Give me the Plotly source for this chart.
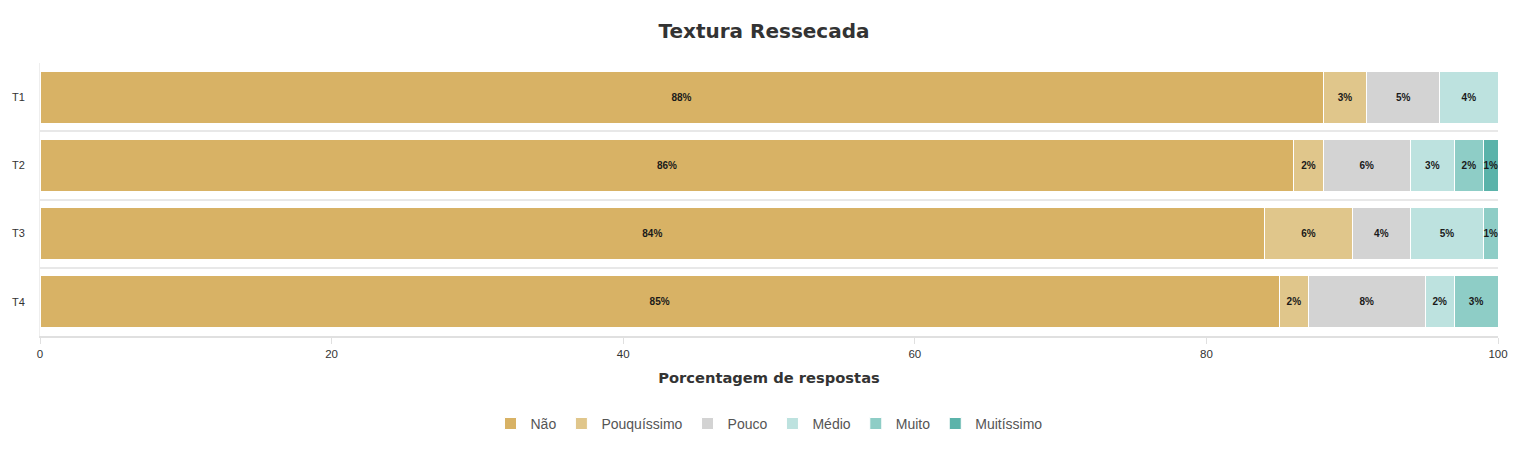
import plotly.graph_objects as go

categories = ["T1", "T2", "T3", "T4"]
series_names = ["Não", "Pouquíssimo", "Pouco", "Médio", "Muito", "Muitíssimo"]
nao = [88, 86, 84, 85]
pouquissimo = [3, 2, 6, 2]
pouco = [5, 6, 4, 8]
medio = [4, 3, 5, 2]
muito = [0, 2, 1, 3]
muitissimo = [0, 1, 0, 0]
x_ticks = [0, 20, 40, 60, 80, 100]

colors = ["#d8b265", "#e0c68b", "#d3d3d3", "#bde2df", "#8ecdc6", "#5bb3aa"]
series_values = [nao, pouquissimo, pouco, medio, muito, muitissimo]

fig = go.Figure()
for name, vals, col in zip(series_names, series_values, colors):
    fig.add_trace(go.Bar(
        y=categories, x=vals, name=name, orientation="h",
        marker=dict(color=col, line=dict(color="white", width=1)),
        text=[f"{v}%" if v > 0 else "" for v in vals],
        textposition="inside", insidetextanchor="middle", textangle=0,
        textfont=dict(family="Liberation Sans, Arial", size=10, color="#1a1a1a"),
        texttemplate="<b>%{text}</b>",
        hoverinfo="x+name",
    ))

# page has an 8px body margin, so figure is sized/margined to compensate
fig.update_layout(
    barmode="stack",
    bargap=0.235,
    width=1512, height=442,
    margin=dict(l=32, r=22, t=55, b=114, autoexpand=False),
    paper_bgcolor="white", plot_bgcolor="white",
    title=dict(text="<b>Textura Ressecada</b>", x=0.5, xanchor="center", y=0.948, yanchor="middle",
               font=dict(family="DejaVu Sans", size=20, color="#333"), automargin=False),
    uniformtext=dict(minsize=10, mode="show"),
    xaxis=dict(range=[0, 100], tickvals=x_ticks, showgrid=False, zeroline=False, automargin=False,
               showline=True, linecolor="#e0e0e0", linewidth=2,
               ticks="outside", ticklen=6, tickcolor="#e0e0e0",
               tickfont=dict(family="Liberation Sans, Arial", size=11.5, color="#333"),
               title=dict(text="<b>Porcentagem de respostas</b>", standoff=14,
                          font=dict(family="DejaVu Sans", size=14.7, color="#333"))),
    yaxis=dict(autorange="reversed", tickson="boundaries", showgrid=True, gridcolor="#e8e8e8", gridwidth=2,
               showline=True, linecolor="#eeeeee", linewidth=1, ticks="", zeroline=False, automargin=False,
               ticklabelstandoff=12,
               tickfont=dict(family="Liberation Sans, Arial", size=11, color="#333")),
    legend=dict(orientation="h", x=0.5, xanchor="center", y=-0.322, yanchor="middle", traceorder="normal",
                font=dict(family="Liberation Sans, Arial", size=14, color="#555"),
                itemwidth=30, tracegroupgap=0),
)

fig.write_html("out.html")
